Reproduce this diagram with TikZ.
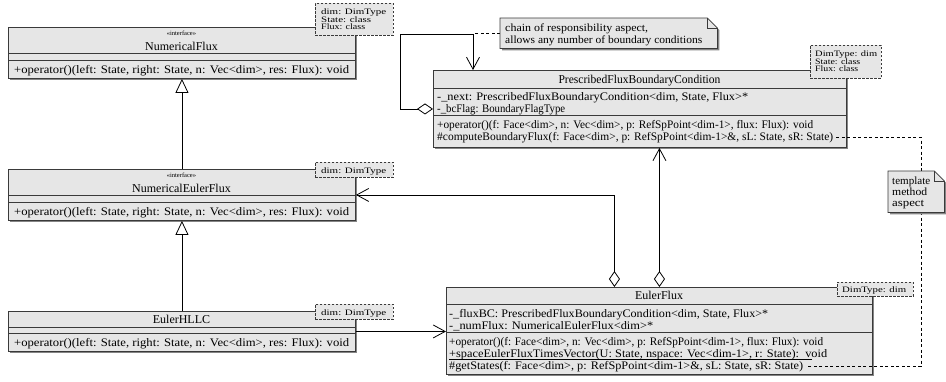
\documentclass[tikz,border=0pt]{standalone}
\usepackage{graphicx}
\usepackage{fontspec}
\setmainfont{Liberation Serif}
\usetikzlibrary{arrows.meta,shadows}
\definecolor{boxgray}{HTML}{E6E6E6}
\definecolor{edgegray}{HTML}{3A3A3A}
\definecolor{shadowgray}{HTML}{858585}
\newcommand\fw[2]{\resizebox{#1pt}{\height}{#2}}
\begin{document}
\begin{tikzpicture}[x=1pt,y=-1pt,
  shad/.style={drop shadow={shadow xshift=2pt,shadow yshift=-2pt,fill=shadowgray,opacity=1}},
  classbox/.style={draw=edgegray,fill=boxgray,line width=0.9pt,inner sep=0pt,anchor=north west,shad},
  sepline/.style={draw=edgegray,line width=0.9pt},
  txt/.style={font=\fontsize{11.5}{12}\selectfont,inner sep=0pt,anchor=base west},
  ttl/.style={font=\fontsize{12}{12}\selectfont,inner sep=0pt,anchor=base},
  stereo/.style={font=\fontsize{6.5}{7}\selectfont,inner sep=0pt,anchor=base},
  tparam/.style={draw=edgegray,dash pattern=on 2.4pt off 1.6pt,fill=boxgray,line width=0.9pt,inner sep=0pt,anchor=north west},
  ptxt/.style={font=\fontsize{8.3}{9}\selectfont,inner sep=0pt,anchor=base west},
  notefr/.style={inner sep=0pt,anchor=north west},
  noteline/.style={draw=edgegray,line width=0.8pt},
  ntxt/.style={font=\fontsize{11}{12}\selectfont,inner sep=0pt,anchor=base west},
  conn/.style={draw=black,line width=0.8pt},
  gen/.style={conn,-{Triangle[open,length=14pt,width=13pt]}},
  nav/.style={conn,-{Straight Barb[length=12pt,width=13pt]}},
  agg/.style={conn,{Diamond[open,length=16pt,width=11pt]}-{Straight Barb[length=12pt,width=13pt]}},
  dep/.style={draw=black,line width=0.8pt,dash pattern=on 3pt off 2.5pt}
]
\useasboundingbox (0,0) rectangle (946,381);

% ---------------- class boxes ----------------
\node[classbox,minimum width=347pt,minimum height=51pt] (nf) at (8,27) {};
\draw[sepline] ([yshift=-26.5pt]nf.north west) -- ([yshift=-26.5pt]nf.north east);
\draw[sepline] ([yshift=-33pt]nf.north west) -- ([yshift=-33pt]nf.north east);
\node[stereo] (nfst) at (181.5,35) {«interface»};
\node[ttl] (nfname) at (181.5,50) {NumericalFlux};
\node[txt] (nfop) at (14,73) {\fw{335}{+operator()(left: State, right: State, n: Vec<dim>, res: Flux): void}};

\node[classbox,minimum width=347pt,minimum height=51pt] (nef) at (8,169) {};
\draw[sepline] ([yshift=-26.5pt]nef.north west) -- ([yshift=-26.5pt]nef.north east);
\draw[sepline] ([yshift=-33pt]nef.north west) -- ([yshift=-33pt]nef.north east);
\node[stereo] (nefst) at (181.5,177) {«interface»};
\node[ttl] (nefname) at (181.5,192) {NumericalEulerFlux};
\node[txt] (nefop) at (14,215) {\fw{335}{+operator()(left: State, right: State, n: Vec<dim>, res: Flux): void}};

\node[classbox,minimum width=347pt,minimum height=40pt] (hllc) at (8,311) {};
\draw[sepline] ([yshift=-16pt]hllc.north west) -- ([yshift=-16pt]hllc.north east);
\draw[sepline] ([yshift=-22pt]hllc.north west) -- ([yshift=-22pt]hllc.north east);
\node[ttl] (hllcname) at (181.5,323.5) {EulerHLLC};
\node[txt] (hllcop) at (14,346) {\fw{335}{+operator()(left: State, right: State, n: Vec<dim>, res: Flux): void}};

\node[classbox,minimum width=413pt,minimum height=77pt] (pfbc) at (433,70) {};
\draw[sepline] ([yshift=-18pt]pfbc.north west) -- ([yshift=-18pt]pfbc.north east);
\draw[sepline] ([yshift=-45pt]pfbc.north west) -- ([yshift=-45pt]pfbc.north east);
\node[ttl] (pfbcname) at (639.5,83.5) {\fw{162}{PrescribedFluxBoundaryCondition}};
\node[txt] (pfat1) at (437,100) {\fw{311}{-\_next: PrescribedFluxBoundaryCondition<dim, State, Flux>*}};
\node[txt] (pfat2) at (437,112) {\fw{128}{-\_bcFlag: BoundaryFlagType}};
\node[txt] (pfop1) at (437,128) {\fw{376}{+operator()(f: Face<dim>, n: Vec<dim>, p: RefSpPoint<dim-1>, flux: Flux): void}};
\node[txt] (pfop2) at (437,140) {\fw{396}{\#computeBoundaryFlux(f: Face<dim>, p: RefSpPoint<dim-1>\&, sL: State, sR: State)}};

\node[classbox,minimum width=426pt,minimum height=87pt] (ef) at (446,287) {};
\draw[sepline] ([yshift=-17pt]ef.north west) -- ([yshift=-17pt]ef.north east);
\draw[sepline] ([yshift=-45pt]ef.north west) -- ([yshift=-45pt]ef.north east);
\node[ttl] (efname) at (659,299.5) {EulerFlux};
\node[txt] (efat1) at (449,317) {\fw{319}{-\_fluxBC: PrescribedFluxBoundaryCondition<dim, State, Flux>*}};
\node[txt] (efat2) at (449,329) {\fw{204}{-\_numFlux: NumericalEulerFlux<dim>*}};
\node[txt] (efop1) at (449,345) {\fw{374}{+operator()(f: Face<dim>, n: Vec<dim>, p: RefSpPoint<dim-1>, flux: Flux): void}};
\node[txt] (efop2) at (449,357) {\fw{378}{+spaceEulerFluxTimesVector(U: State, nspace: Vec<dim-1>, r: State):\ \ void}};
\node[txt] (efop3) at (449,369) {\fw{354}{\#getStates(f: Face<dim>, p: RefSpPoint<dim-1>\&, sL: State, sR: State)}};
\draw[line width=0.6pt] ([yshift=-2pt]efop2.base west) -- ([yshift=-2pt]efop2.base west -| 812,0);

% ---------------- template parameter boxes ----------------
\node[tparam,minimum width=78pt,minimum height=32pt] (tp1) at (315,3) {};
\node[ptxt] (tp1a) at (321,14.5) {\fw{65}{dim: DimType}};
\node[ptxt] (tp1b) at (321,22) {\fw{50}{State: class}};
\node[ptxt] (tp1c) at (321,29.5) {\fw{44}{Flux: class}};

\node[tparam,minimum width=78pt,minimum height=15pt] (tp2) at (315,162) {};
\node[ptxt] (tp2a) at (321,173) {\fw{65}{dim: DimType}};

\node[tparam,minimum width=78pt,minimum height=15pt] (tp3) at (315,304) {};
\node[ptxt] (tp3a) at (321,315) {\fw{65}{dim: DimType}};

\node[tparam,minimum width=71pt,minimum height=33pt] (tp4) at (810,45) {};
\node[ptxt] (tp4a) at (815,56.5) {\fw{62}{DimType: dim}};
\node[ptxt] (tp4b) at (815,64) {\fw{45}{State: class}};
\node[ptxt] (tp4c) at (815,71.5) {\fw{43}{Flux: class}};

\node[tparam,minimum width=76pt,minimum height=14pt] (tp5) at (837,282) {};
\node[ptxt] (tp5a) at (842,292.5) {\fw{64}{DimType: dim}};

% ---------------- connectors ----------------
\draw[gen] (nef.north) -- (nf.south);
\draw[gen] (hllc.north) -- (nef.south);
\draw[nav] (hllc.east) -- (hllc.east -| ef.west);
\draw[agg] ([xshift=-45pt]ef.north) |- (nef.east);
\draw[agg] (ef.north) -- (ef.north |- pfbc.south);

\coordinate (selfTop) at (473,34);
\draw[agg] (pfbc.west) -- ++(-33,0) |- (selfTop) -- (selfTop |- pfbc.north);

% template method dependency
\coordinate (tmRight) at (921,250);
\draw[dep] ([xshift=3pt]pfop2.east) -| (tmRight) |- ([xshift=3pt]efop3.east);

% ---------------- notes ----------------
\node[notefr,minimum width=217pt,minimum height=30pt] (note1) at (500,18) {};
\draw[dep] (note1.west) -- (note1.west -| selfTop);
\path[noteline,fill=boxgray,shad] (note1.north west) -- ([xshift=-10pt]note1.north east) -- ([yshift=-10pt]note1.north east) -- (note1.south east) -- (note1.south west) -- cycle;
\draw[noteline] ([xshift=-10pt]note1.north east) |- ([yshift=-10pt]note1.north east);
\node[ntxt] (n1a) at (505,31) {\fw{143}{chain of responsibility aspect,}};
\node[ntxt] (n1b) at (505,43) {\fw{197}{allows any number of boundary conditions}};

\node[notefr,minimum width=56pt,minimum height=41pt] (note2) at (888,171) {};
\path[noteline,fill=boxgray,shad] (note2.north west) -- ([xshift=-10pt]note2.north east) -- ([yshift=-10pt]note2.north east) -- (note2.south east) -- (note2.south west) -- cycle;
\draw[noteline] ([xshift=-10pt]note2.north east) |- ([yshift=-10pt]note2.north east);
\node[ntxt] (n2a) at (892,184) {\fw{38}{template}};
\node[ntxt] (n2b) at (892,195) {\fw{35}{method}};
\node[ntxt] (n2c) at (892,206) {\fw{32}{aspect}};
\end{tikzpicture}
\end{document}
